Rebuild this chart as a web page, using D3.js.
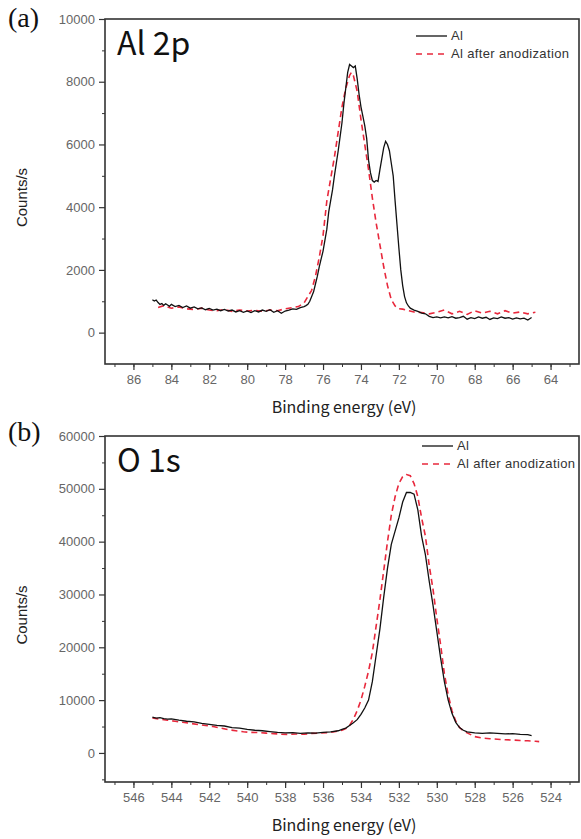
<!DOCTYPE html>
<html>
<head>
<meta charset="utf-8">
<script src="https://cdn.jsdelivr.net/npm/d3@7"></script>
<style>
  body{margin:0;background:#fff;}
  svg{display:block;}
</style>
</head>
<body>
<svg id="chart" width="581" height="839"></svg>
<script>
// Al 2p, as-received Al  [binding energy (eV), counts/s]
var al2pBare = [
  [85.0,1050],[84.9,1010],[84.8,1040],[84.7,960],[84.6,900],[84.5,930],[84.4,870],[84.3,920],[84.2,880],[84.1,840],
  [84.0,900],[83.8,830],[83.6,870],[83.4,800],[83.2,850],[83.0,780],[82.8,820],[82.6,760],[82.4,790],[82.2,730],
  [82.0,770],[81.8,720],[81.6,750],[81.4,700],[81.2,740],[81.0,690],[80.8,720],[80.6,660],[80.4,700],[80.2,650],
  [80.0,690],[79.8,640],[79.6,700],[79.4,660],[79.2,720],[79.0,680],[78.8,730],[78.6,650],[78.4,700],[78.2,620],
  [78.0,690],[77.8,720],[77.6,760],[77.4,740],[77.2,800],[77.0,830],[76.9,860],[76.8,900],[76.7,1000],[76.6,1150],
  [76.5,1300],[76.4,1550],[76.3,1800],[76.2,2100],[76.1,2350],[76.0,2600],[75.9,2950],[75.8,3300],[75.7,3850],[75.6,4200],
  [75.5,4550],[75.4,5000],[75.3,5400],[75.2,5800],[75.1,6250],[75.0,6700],[74.9,7300],[74.8,7800],[74.7,8300],[74.6,8550],
  [74.5,8500],[74.4,8450],[74.3,8500],[74.2,8100],[74.1,7600],[74.0,7200],[73.9,6900],[73.8,6600],[73.7,6200],[73.6,5500],
  [73.5,5100],[73.4,4850],[73.3,4800],[73.2,4850],[73.1,4820],[73.0,5200],[72.9,5550],[72.8,5900],[72.7,6100],[72.6,6000],
  [72.5,5800],[72.4,5400],[72.3,5000],[72.2,4200],[72.1,3450],[72.0,2700],[71.9,2000],[71.8,1500],[71.7,1150],[71.6,950],
  [71.5,850],[71.4,780],[71.2,720],[71.0,680],[70.8,620],[70.6,600],[70.4,520],[70.2,480],[70.0,500],[69.8,470],
  [69.6,500],[69.4,470],[69.2,510],[69.0,460],[68.8,480],[68.6,520],[68.4,430],[68.2,480],[68.0,450],[67.8,500],
  [67.6,460],[67.4,490],[67.2,420],[67.0,470],[66.8,450],[66.6,500],[66.4,460],[66.2,480],[66.0,430],[65.8,470],
  [65.6,440],[65.4,460],[65.2,400],[65.0,480]
];
// Al 2p, after anodization
var al2pAnod = [
  [84.7,800],[84.4,860],[84.0,780],[83.6,820],[83.2,760],[82.8,740],[82.4,780],[82.0,720],[81.6,700],[81.2,740],
  [80.8,680],[80.4,720],[80.0,690],[79.6,710],[79.2,680],[78.8,720],[78.4,700],[78.0,760],[77.6,800],[77.3,830],
  [77.0,950],[76.8,1150],[76.6,1350],[76.4,1800],[76.2,2400],[76.0,3100],[75.8,4200],[75.6,4900],[75.4,5600],[75.2,6400],
  [75.0,7200],[74.8,7800],[74.6,8200],[74.5,8300],[74.4,8200],[74.2,7700],[74.0,6800],[73.8,6000],[73.6,5200],[73.4,4300],
  [73.2,3500],[73.0,2800],[72.8,2100],[72.6,1500],[72.4,1050],[72.2,850],[72.0,760],[71.8,750],[71.5,700],[71.2,660],
  [70.8,640],[70.4,600],[70.0,650],[69.6,720],[69.2,600],[68.8,680],[68.4,580],[68.0,700],[67.6,620],[67.2,680],
  [66.8,600],[66.4,700],[66.0,620],[65.6,660],[65.2,600],[64.8,650]
];
// O 1s, as-received Al
var o1sBare = [
  [545.0,6800],[544.8,6600],[544.6,6700],[544.4,6500],[544.2,6400],[544.0,6450],[543.6,6200],[543.2,6000],[542.8,5900],[542.4,5600],
  [542.0,5400],[541.6,5200],[541.2,5100],[540.8,4800],[540.4,4700],[540.0,4450],[539.6,4300],[539.2,4200],[538.8,4050],[538.4,3900],
  [538.0,3800],[537.6,3850],[537.2,3700],[536.8,3800],[536.4,3750],[536.0,3900],[535.6,4000],[535.2,4200],[535.0,4450],[534.8,4700],
  [534.6,5200],[534.4,5700],[534.2,6300],[534.0,7300],[533.8,8500],[533.6,10000],[533.4,13500],[533.2,18500],[533.0,23500],[532.8,29500],
  [532.6,35000],[532.4,39500],[532.2,42000],[532.0,44500],[531.8,47500],[531.6,49300],[531.4,49300],[531.2,49000],[531.0,46000],[530.8,41000],
  [530.6,37500],[530.4,32500],[530.2,28000],[530.0,23000],[529.8,18000],[529.6,13500],[529.4,10000],[529.2,7500],[529.0,5800],[528.8,4800],
  [528.6,4300],[528.4,4000],[528.0,3800],[527.6,3700],[527.2,3800],[526.8,3700],[526.4,3600],[526.0,3650],[525.6,3500],[525.2,3450],
  [525.0,3300]
];
// O 1s, after anodization
var o1sAnod = [
  [545.0,6600],[544.6,6400],[544.2,6200],[543.8,6000],[543.4,5800],[543.0,5600],[542.6,5400],[542.2,5200],[541.8,5000],[541.4,4700],
  [541.0,4400],[540.6,4200],[540.2,4000],[539.8,3900],[539.4,3850],[539.0,3750],[538.6,3650],[538.2,3550],[537.8,3500],[537.4,3600],
  [537.0,3550],[536.6,3700],[536.2,3750],[535.8,3850],[535.4,4000],[535.0,4300],[534.8,4600],[534.6,5200],[534.4,6400],[534.2,8000],
  [534.0,10000],[533.8,12600],[533.6,15500],[533.4,19000],[533.2,24000],[533.0,29000],[532.8,34500],[532.6,40000],[532.4,45000],[532.2,48500],
  [532.0,51000],[531.8,52300],[531.6,52700],[531.4,52500],[531.2,51000],[531.0,48500],[530.8,44500],[530.6,41000],[530.4,35500],[530.2,31000],
  [530.0,25500],[529.8,20500],[529.6,15000],[529.4,11000],[529.2,8000],[529.0,6000],[528.8,4800],[528.6,4200],[528.4,3800],[528.0,3100],
  [527.6,2800],[527.2,2700],[526.8,2600],[526.4,2500],[526.0,2450],[525.6,2350],[525.2,2300],[524.8,2200],[524.6,2150]
];

var al2pXTicks = [86,84,82,80,78,76,74,72,70,68,66,64];
var al2pYTicks = [0,2000,4000,6000,8000,10000];
var o1sXTicks = [546,544,542,540,538,536,534,532,530,528,526,524];
var o1sYTicks = [0,10000,20000,30000,40000,50000,60000];
var legendNames = ["Al","Al after anodization"];

var svg = d3.select("#chart");
var tickFont = "'Liberation Sans', Arial, sans-serif";
var titleFont = "'Noto Sans CJK KR', 'Noto Sans', sans-serif";

function drawPanel(o){
  var x = d3.scaleLinear().domain(o.xDomain).range([105,579]);
  var y = d3.scaleLinear().domain(o.yDomain).range([o.bottom,o.top]);
  var g = svg.append("g");

  // minor ticks
  var xMinor = d3.range(Math.ceil(o.xDomain[1]),Math.floor(o.xDomain[0])+1,1);
  g.append("g").attr("transform","translate(0,"+o.bottom+")")
    .call(d3.axisBottom(x).tickValues(xMinor).tickSize(3).tickFormat(""))
    .call(function(s){s.select(".domain").remove();s.selectAll("line").attr("stroke","#333");});
  var yStep = o.yTicks[1]-o.yTicks[0];
  var yMinor = d3.range(o.yTicks[0]-yStep/2,o.yDomain[1],yStep).filter(function(v){return v>o.yDomain[0];});
  g.append("g").attr("transform","translate(105,0)")
    .call(d3.axisLeft(y).tickValues(yMinor).tickSize(3).tickFormat(""))
    .call(function(s){s.select(".domain").remove();s.selectAll("line").attr("stroke","#333");});

  // major ticks + labels
  var xa = g.append("g").attr("transform","translate(0,"+o.bottom+")")
    .call(d3.axisBottom(x).tickValues(o.xTicks).tickSize(6).tickPadding(5).tickFormat(d3.format("d")));
  var ya = g.append("g").attr("transform","translate(105,0)")
    .call(d3.axisLeft(y).tickValues(o.yTicks).tickSize(6).tickPadding(4).tickFormat(d3.format("d")));
  [xa,ya].forEach(function(a){
    a.select(".domain").remove();
    a.selectAll("line").attr("stroke","#333").attr("stroke-width",1.2);
    a.selectAll("text").attr("fill","#666").style("font-family",tickFont).style("font-size","13px");
  });

  // frame
  g.append("rect").attr("x",105).attr("y",o.top).attr("width",474).attr("height",o.bottom-o.top)
    .attr("fill","none").attr("stroke","#333").attr("stroke-width",1.6);

  var line = d3.line().x(function(d){return x(d[0]);}).y(function(d){return y(d[1]);});
  g.append("path").datum(o.anod).attr("d",line).attr("fill","none")
    .attr("stroke","#e8283c").attr("stroke-width",1.6).attr("stroke-dasharray","6,4");
  g.append("path").datum(o.bare).attr("d",line).attr("fill","none")
    .attr("stroke","#111").attr("stroke-width",1.3);

  // legend
  var lg = g.append("g");
  lg.append("line").attr("x1",o.legX).attr("x2",o.legX+31).attr("y1",o.legY).attr("y2",o.legY)
    .attr("stroke","#111").attr("stroke-width",1.3);
  lg.append("line").attr("x1",o.legX).attr("x2",o.legX+31).attr("y1",o.legY+18).attr("y2",o.legY+18)
    .attr("stroke","#e8283c").attr("stroke-width",1.6).attr("stroke-dasharray","6,5");
  legendNames.forEach(function(n,i){
    lg.append("text").attr("x",o.legX+35).attr("y",o.legY+4+18*i).text(n)
      .attr("fill","#333").style("font-family",tickFont).style("font-size","13px")
      .style("letter-spacing","0.35px");
  });

  // titles
  g.append("text").attr("x",8).attr("y",o.tagY).text(o.tag)
    .style("font-family","'Liberation Serif', 'Times New Roman', serif").style("font-size","28px").attr("fill","#111");
  g.append("text").attr("x",117).attr("y",o.top+36).text(o.name)
    .style("font-family",titleFont).style("font-size","32px").attr("fill","#111");
  g.append("text").attr("x",344).attr("y",o.bottom+49).attr("text-anchor","middle").text("Binding energy (eV)")
    .style("font-family",titleFont).style("font-size","16px").attr("fill","#222");
  g.append("text").attr("transform","translate(27,"+((o.top+o.bottom)/2+6)+") rotate(-90)")
    .attr("text-anchor","middle").text("Counts/s")
    .style("font-family",tickFont).style("font-size","15px").attr("fill","#222");
}

drawPanel({xDomain:[87.5,62.5],yDomain:[-1000,10000],top:19,bottom:364,
  xTicks:al2pXTicks,yTicks:al2pYTicks,bare:al2pBare,anod:al2pAnod,
  legX:416,legY:36,tag:"(a)",tagY:27,name:"Al 2p"});
drawPanel({xDomain:[547.5,522.5],yDomain:[-5500,60000],top:436,bottom:782,
  xTicks:o1sXTicks,yTicks:o1sYTicks,bare:o1sBare,anod:o1sAnod,
  legX:422,legY:446,tag:"(b)",tagY:441,name:"O 1s"});
</script>
</body>
</html>
